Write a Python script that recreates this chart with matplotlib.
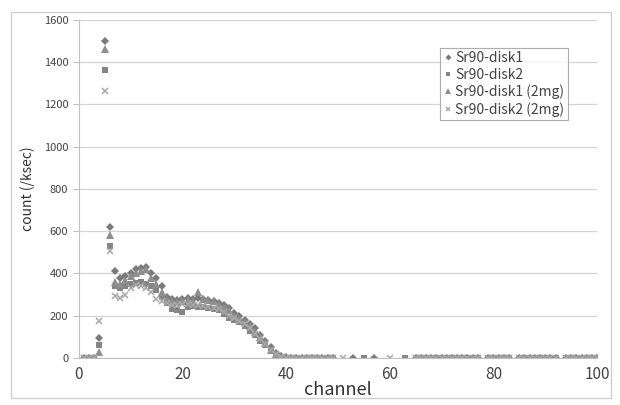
import numpy as np
import matplotlib.pyplot as plt
from matplotlib.patches import Rectangle

plt.rcParams['font.family'] = ['Noto Sans CJK JP', 'DejaVu Sans']

# channels 1..40 (main spectrum)
head_channels = list(range(1, 41))
disk1 = [0, 0, 0, 95, 1500, 620, 410, 380, 390, 400,
         420, 425, 430, 400, 380, 340, 290, 280, 275, 280,
         285, 280, 285, 280, 275, 270, 260, 250, 235, 215,
         200, 180, 160, 140, 110, 80, 50, 25, 10, 5]
disk2 = [0, 0, 0, 60, 1365, 530, 340, 330, 340, 350,
         355, 360, 350, 340, 320, 290, 260, 230, 225, 220,
         240, 245, 240, 240, 235, 230, 225, 210, 190, 180,
         170, 150, 130, 110, 80, 60, 35, 15, 5, 2]
disk1_2mg = [0, 0, 0, 30, 1460, 580, 360, 350, 370, 390,
             400, 410, 420, 380, 350, 310, 280, 270, 265, 270,
             275, 270, 310, 280, 275, 270, 255, 240, 225, 200,
             185, 170, 150, 125, 100, 70, 40, 20, 8, 3]
disk2_2mg = [0, 0, 0, 175, 1265, 505, 295, 285, 300, 330,
             345, 340, 330, 310, 280, 270, 260, 250, 250, 255,
             255, 250, 250, 245, 240, 235, 230, 220, 200, 190,
             175, 160, 140, 115, 90, 65, 40, 18, 6, 2]

# channels 41..100 (tail, None = no point plotted)
tail_channels = list(range(41, 101))
N = None
disk1_tail = [2, 1, 1, 0, 1, 0, 0, 1, 0, N, N, N, 0, N, N, N, 0, N, N, N,
              N, N, N, N, 0, 0, 0, 0, 0, 0, 0, 0, 0, 0, 0, 0, 0, N, 0, 0,
              0, 0, 0, N, 0, 0, 0, 0, 0, 0, 0, 0, N, 0, 0, 0, 0, 0, 0, 0]
disk2_tail = [1, 1, 0, 0, 0, 1, 0, 0, 0, N, N, N, N, N, 0, N, N, N, N, N,
              N, N, 0, N, 0, 0, 0, 0, 0, 0, 0, 0, 0, 0, 0, 0, 0, N, 0, 0,
              0, 0, 0, N, 0, 0, 0, 0, 0, 0, 0, 0, N, 0, 0, 0, 0, 0, 0, 0]
disk1_2mg_tail = [1, 0, 1, 0, 0, 0, 1, 0, 0, N, N, N, N, N, N, N, N, N, N, N,
                  N, N, N, N, 0, 0, 0, 0, 0, 0, 0, 0, 0, 0, 0, 0, 0, N, 0, 0,
                  0, 0, 0, N, 0, 0, 0, 0, 0, 0, 0, 0, N, 0, 0, 0, 0, 0, 0, 0]
disk2_2mg_tail = [1, 0, 0, 1, 0, 0, 0, 0, 0, N, 0, N, N, N, N, N, N, N, N, 0,
                  N, N, N, N, 0, 0, 0, 0, 0, 0, 0, 0, 0, 0, 0, 0, 0, N, 0, 0,
                  0, 0, 0, N, 0, 0, 0, 0, 0, 0, 0, 0, N, 0, 0, 0, 0, 0, 0, 0]

series = [
    ("Sr90-disk1", disk1, disk1_tail, 'D', 4.3, '#7a7a7a'),
    ("Sr90-disk2", disk2, disk2_tail, 's', 5.0, '#858585'),
    ("Sr90-disk1 (2mg)", disk1_2mg, disk1_2mg_tail, '^', 5.5, '#8e8e8e'),
    ("Sr90-disk2 (2mg)", disk2_2mg, disk2_2mg_tail, 'x', 5.0, '#a8a8a8'),
]

fig = plt.figure(figsize=(6.2, 4.05), dpi=100)
fig.patches.append(Rectangle((0.018, 0.018), 0.968, 0.952, transform=fig.transFigure,
                             fill=False, edgecolor='#d0d0d0', linewidth=1.0))
ax = fig.add_axes([0.127, 0.116, 0.836, 0.835])

for label, head, tail, marker, size, color in series:
    xs = head_channels + tail_channels
    ys = [np.nan if v is None else v for v in head + tail]
    mew = 1.1 if marker == 'x' else 0
    ax.plot(xs, ys, linestyle='none', marker=marker, markersize=size,
            color=color, markeredgewidth=mew, label=label)

ax.set_xlim(0, 100)
ax.set_ylim(0, 1600)
ax.set_xticks(range(0, 101, 20))
ax.set_yticks(range(0, 1601, 200))
ax.grid(axis='y', color='#d4d4d4', linewidth=0.9)
ax.set_axisbelow(True)
for s in ['top', 'right']:
    ax.spines[s].set_visible(False)
for s in ['left', 'bottom']:
    ax.spines[s].set_color('#c0c0c0')
ax.tick_params(axis='y', colors='#c0c0c0', labelcolor='#444444', labelsize=8, length=4)
ax.tick_params(axis='x', colors='#c0c0c0', labelcolor='#444444', labelsize=11, length=0, pad=6)
ax.set_xlabel('channel', fontsize=13, color='#333333', labelpad=-2)
ax.set_ylabel('count (/ksec)', fontsize=10, color='#333333', labelpad=6)

leg = ax.legend(loc='upper right', bbox_to_anchor=(0.943, 0.918), fontsize=10,
                frameon=True, fancybox=False, handlelength=0.6, handletextpad=0.2,
                borderpad=0.25, labelspacing=0.2, borderaxespad=0, markerscale=0.7)
leg.get_frame().set_edgecolor('#999999')
leg.get_frame().set_linewidth(0.8)
for t in leg.get_texts():
    t.set_color('#444444')

fig.savefig('out.png', dpi=100)
